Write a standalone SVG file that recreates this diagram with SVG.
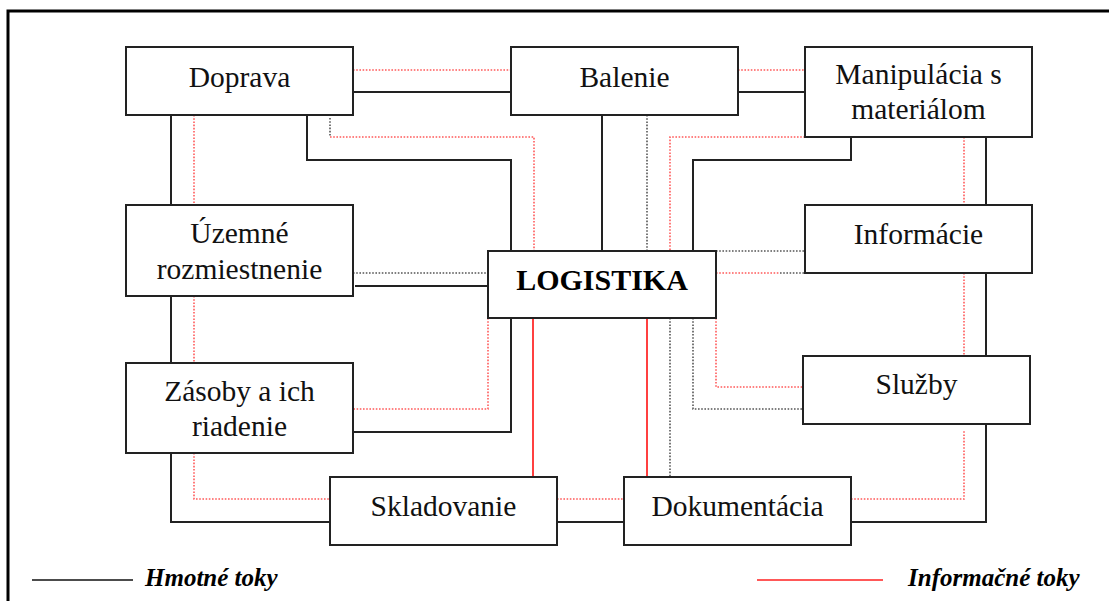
<svg xmlns="http://www.w3.org/2000/svg" width="1109" height="601" viewBox="0 0 1109 601">
<style>
.box{fill:#fff;stroke:#222;stroke-width:2}
.t{font-family:"Liberation Serif","Times New Roman",serif;font-size:29.5px;fill:#111;text-anchor:middle}
.tb{font-family:"Liberation Serif","Times New Roman",serif;font-size:30px;font-weight:bold;fill:#000;text-anchor:middle}
.lg{font-family:"Liberation Serif","Times New Roman",serif;font-size:25px;font-weight:bold;font-style:italic;fill:#000}
.m{fill:none;stroke:#222;stroke-width:2}
.rs{fill:none;stroke:#ff4040;stroke-width:2}
.rd{fill:none;stroke:#ff5a5a;stroke-width:1.6;stroke-dasharray:1.6 1.6}
.gd{fill:none;stroke:#555;stroke-width:1.6;stroke-dasharray:1.6 1.6}
</style>
<rect width="1109" height="601" fill="#fff"/>
<path d="M8,601 V11 H1109" fill="none" stroke="#000" stroke-width="3"/>
<g id="connectors">
<path class="m" d="M353,92 H511"/>
<path class="m" d="M738,92 H805"/>
<path class="m" d="M171,115 V205"/>
<path class="m" d="M171,296 V363"/>
<path class="m" d="M171,453 V522 H330"/>
<path class="m" d="M557,522 H624"/>
<path class="m" d="M851,522 H986 V424"/>
<path class="m" d="M986,273 V363"/>
<path class="m" d="M986,137 V205"/>
<path class="m" d="M307,115 V160 H511 V251"/>
<path class="m" d="M602,115 V251"/>
<path class="m" d="M851,137 V160 H693 V251"/>
<path class="m" d="M355,286 H492"/>
<path class="m" d="M353,432 H511 V318"/>
<path class="rs" d="M533,318 V477"/>
<path class="rs" d="M647,318 V477"/>
<path class="rd" d="M353,70 H511"/>
<path class="rd" d="M738,70 H805"/>
<path class="rd" d="M194,115 V205"/>
<path class="rd" d="M194,296 V363"/>
<path class="rd" d="M194,453 V499 H330"/>
<path class="rd" d="M557,499 H624"/>
<path class="rd" d="M851,499 H964 V431"/>
<path class="rd" d="M964,273 V362"/>
<path class="rd" d="M964,137 V205"/>
<path class="rd" d="M330,137 H534 V251"/>
<path class="rd" d="M805,137 H670 V251"/>
<path class="rd" d="M716,273 H780"/>
<path class="gd" d="M780,273 H805"/>
<path class="rd" d="M488,318 V409 H353"/>
<path class="rd" d="M716,318 V387 H805"/>
<path class="gd" d="M330,118 V137"/>
<path class="gd" d="M647,115 V251"/>
<path class="gd" d="M353,273 H488"/>
<path class="gd" d="M716,251 H805"/>
<path class="gd" d="M670,318 V477"/>
<path class="gd" d="M693,318 V409 H805"/>
</g>
<g id="doprava"><rect class="box" x="126" y="47" width="227" height="68"/><text class="t" x="239.5" y="86.5">Doprava</text></g>
<g id="balenie"><rect class="box" x="511" y="47" width="227" height="68"/><text class="t" x="624.5" y="86.5">Balenie</text></g>
<g id="manipulacia"><rect class="box" x="805" y="47" width="227" height="90"/><text class="t" x="918.5" y="83.5">Manipulácia s</text><text class="t" x="918.5" y="119">materiálom</text></g>
<g id="uzemne"><rect class="box" x="126" y="205" width="227" height="91"/><text class="t" x="239.5" y="243">Územné</text><text class="t" x="239.5" y="278.5">rozmiestnenie</text></g>
<g id="informacie"><rect class="box" x="805" y="205" width="227" height="68"/><text class="t" x="918.5" y="243.5">Informácie</text></g>
<g id="logistika"><rect class="box" x="488" y="251" width="228" height="67"/><text class="tb" x="602" y="289.5">LOGISTIKA</text></g>
<g id="zasoby"><rect class="box" x="126" y="363" width="227" height="90"/><text class="t" x="239.5" y="400.5">Zásoby a ich</text><text class="t" x="239.5" y="436">riadenie</text></g>
<g id="sluzby"><rect class="box" x="803" y="356" width="227" height="68"/><text class="t" x="916.5" y="393.5">Služby</text></g>
<g id="skladovanie"><rect class="box" x="330" y="477" width="227" height="68"/><text class="t" x="443.5" y="516">Skladovanie</text></g>
<g id="dokumentacia"><rect class="box" x="624" y="477" width="227" height="68"/><text class="t" x="737.5" y="516">Dokumentácia</text></g>
<g id="legend">
<path d="M32,580 H133" stroke="#111" stroke-width="1.6"/>
<text class="lg" x="145" y="585.5">Hmotné toky</text>
<path d="M757,580 H883" stroke="#ff2020" stroke-width="1.6"/>
<text class="lg" x="908" y="585.5">Informačné toky</text>
</g>
</svg>
